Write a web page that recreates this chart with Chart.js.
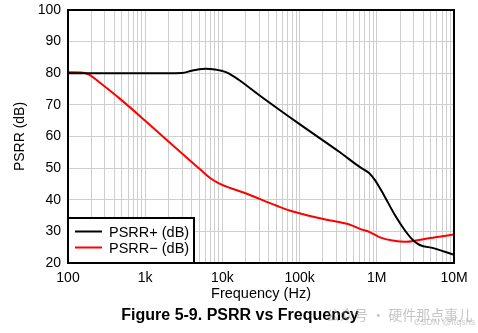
<!DOCTYPE html>
<html>
<head>
<meta charset="utf-8">
<script src="https://cdn.jsdelivr.net/npm/chart.js@4/dist/chart.umd.min.js"></script>
<style>
  html, body { margin: 0; padding: 0; background: #fff; }
  #wrap { width: 478px; height: 333px; position: relative; }
</style>
</head>
<body>
<div id="wrap"><canvas id="c" width="478" height="333"></canvas></div>
<script>
// ---- data ----
const freqPlus = [100, 1000, 3000, 4000, 5000, 6000, 8000, 10000, 11500, 15900, 30700, 100000, 333000, 606000, 800000, 948000, 1100000, 1280000, 1730000, 2330000, 2980000, 3600000, 5400000, 10000000];
const psrrPlus = [80, 80, 80.1, 80.8, 81.3, 81.4, 81.2, 80.7, 80.2, 78.1, 72.9, 63.9, 55, 50.3, 48.4, 46.2, 43.6, 40.8, 35.0, 30.2, 27.1, 25.7, 24.7, 22.6];

const freqMinus = [100, 150, 190, 250, 472, 1000, 3800, 5100, 7000, 9300, 12000, 18700, 50500, 74000, 203000, 450000, 606000, 820000, 1100000, 1600000, 2400000, 3200000, 4900000, 10000000];
const psrrMinus = [80.3, 80.2, 79.5, 77.3, 71.9, 65.0, 52.4, 49.7, 46.8, 45.0, 43.9, 42.3, 38.1, 36.6, 33.9, 32.1, 30.8, 29.7, 28.1, 27.1, 26.7, 27.1, 27.9, 29.0];

const seriesLabels = ['PSRR+ (dB)', 'PSRR\u2212 (dB)'];
const xTickValues = [100, 1000, 10000, 100000, 1000000, 10000000];
const xTickLabels = ['100', '1k', '10k', '100k', '1M', '10M'];
const yTickValues = [20, 30, 40, 50, 60, 70, 80, 90, 100];
const xTitle = 'Frequency (Hz)';
const yTitle = 'PSRR (dB)';
const caption = 'Figure 5-9. PSRR vs Frequency';
const watermark = '\u516C\u4F17\u53F7 \u00B7 \u786C\u4EF6\u90A3\u70B9\u4E8B\u513F';
const watermark2 = 'CSDN @ftqshs';

const FONT = "'Liberation Sans', Arial, sans-serif";

function toPoints(xs, ys) { return xs.map((x, i) => ({ x: x, y: ys[i] })); }

// all 1..9 x 10^n ticks for the log grid
const allXTicks = [];
for (let e = 2; e <= 7; e++) {
  for (let m = 1; m <= 9; m++) {
    const v = m * Math.pow(10, e);
    if (v <= 1e7) allXTicks.push(v);
  }
}

const framePlugin = {
  id: 'frameAndText',
  afterDatasetsDraw(chart) {
    const ctx = chart.ctx;
    const a = chart.chartArea;
    ctx.save();
    // frame
    ctx.strokeStyle = '#000';
    ctx.lineWidth = 2;
    ctx.strokeRect(a.left, a.top, a.right - a.left, a.bottom - a.top);

    // legend box
    const lx = a.left, ly = 218, lw = 126, lh = a.bottom - 218;
    ctx.fillStyle = '#fff';
    ctx.fillRect(lx, ly, lw, lh);
    ctx.strokeRect(lx, ly, lw, lh);
    const ds = chart.data.datasets;
    const rows = [231.5, 247.5];
    ctx.font = '14.5px ' + FONT;
    ctx.textBaseline = 'middle';
    ctx.textAlign = 'left';
    ds.forEach((d, i) => {
      ctx.strokeStyle = d.borderColor;
      ctx.lineWidth = 2;
      ctx.beginPath();
      ctx.moveTo(75, rows[i]);
      ctx.lineTo(102, rows[i]);
      ctx.stroke();
      ctx.fillStyle = '#000';
      ctx.fillText(d.label, 109, rows[i] + 1);
    });

    // axis titles
    ctx.fillStyle = '#000';
    ctx.font = '14.5px ' + FONT;
    ctx.textAlign = 'center';
    ctx.textBaseline = 'middle';
    ctx.fillText(xTitle, (a.left + a.right) / 2, 294);
    ctx.save();
    ctx.font = '14px ' + FONT;
    ctx.translate(20, (a.top + a.bottom) / 2);
    ctx.rotate(-Math.PI / 2);
    ctx.fillText(yTitle, 0, 0);
    ctx.restore();

    // caption
    ctx.font = 'bold 16px ' + FONT;
    ctx.fillText(caption, 240, 316);

    // watermark
    ctx.fillStyle = 'rgba(150,150,150,0.55)';
    ctx.font = "14px 'Noto Sans CJK SC', sans-serif";
    ctx.textAlign = 'left';
    ctx.fillText(watermark, 326, 315);
    ctx.font = '9px ' + FONT;
    ctx.fillStyle = 'rgba(170,170,170,0.6)';
    ctx.fillText(watermark2, 414, 323);
    ctx.restore();
  }
};

new Chart(document.getElementById('c'), {
  type: 'scatter',
  data: {
    datasets: [
      {
        label: seriesLabels[0],
        data: toPoints(freqPlus, psrrPlus),
        showLine: true,
        borderColor: '#000000',
        backgroundColor: '#000000',
        borderWidth: 2,
        pointRadius: 0,
        cubicInterpolationMode: 'monotone'
      },
      {
        label: seriesLabels[1],
        data: toPoints(freqMinus, psrrMinus),
        showLine: true,
        borderColor: '#ff0000',
        backgroundColor: '#ff0000',
        borderWidth: 2,
        pointRadius: 0,
        cubicInterpolationMode: 'monotone'
      }
    ]
  },
  options: {
    responsive: false,
    animation: false,
    devicePixelRatio: 1,
    layout: { padding: { left: 0, right: 24, top: 10, bottom: 0 } },
    plugins: {
      legend: { display: false },
      tooltip: { enabled: false },
      title: { display: false }
    },
    scales: {
      x: {
        type: 'logarithmic',
        min: 100,
        max: 10000000,
        afterBuildTicks(scale) {
          scale.ticks = allXTicks.map(v => ({ value: v, major: xTickValues.includes(v) }));
        },
        afterFit(scale) { scale.height = 70; scale.paddingLeft = 0; scale.paddingRight = 0; },
        grid: { color: '#cfcfcf', lineWidth: 1, drawTicks: false },
        border: { display: false },
        ticks: {
          autoSkip: false,
          maxRotation: 0,
          padding: 7,
          color: '#000',
          font: { family: FONT, size: 14 },
          callback(value) {
            const i = xTickValues.indexOf(value);
            return i >= 0 ? xTickLabels[i] : '';
          }
        }
      },
      y: {
        type: 'linear',
        min: 20,
        max: 100,
        afterBuildTicks(scale) {
          scale.ticks = yTickValues.map(v => ({ value: v }));
        },
        afterFit(scale) { scale.width = 68; scale.paddingTop = 0; scale.paddingBottom = 0; },
        grid: { color: '#cfcfcf', lineWidth: 1, drawTicks: false },
        border: { display: false },
        ticks: {
          padding: 7,
          color: '#000',
          font: { family: FONT, size: 14 }
        }
      }
    }
  },
  plugins: [framePlugin]
});
</script>
</body>
</html>
